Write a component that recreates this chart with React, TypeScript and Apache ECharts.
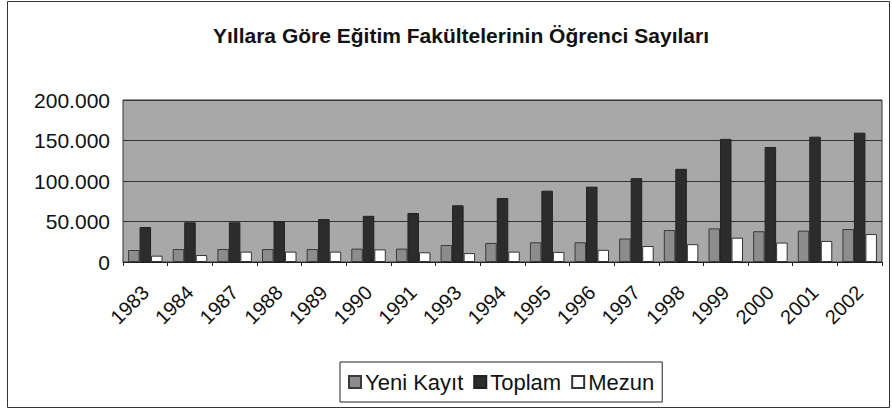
import React, { useEffect, useRef } from "react";
import * as echarts from "echarts";

const years = ["1983", "1984", "1987", "1988", "1989", "1990", "1991", "1993", "1994", "1995", "1996", "1997", "1998", "1999", "2000", "2001", "2002"];
const yeniKayit = [14800, 16000, 16000, 16000, 16000, 16500, 16500, 21000, 23500, 24300, 24300, 29000, 39500, 41500, 38000, 38700, 40700];
const toplam = [43200, 49000, 49000, 50600, 53000, 57000, 60500, 70000, 79000, 88000, 93000, 103500, 115000, 152000, 142000, 154700, 159700];
const mezun = [7800, 8600, 12800, 12800, 12800, 15600, 12000, 11000, 12800, 12500, 15000, 19700, 22000, 30000, 24000, 26000, 34500];
const seriesNames = ["Yeni Kayıt", "Toplam", "Mezun"];
const titleText = "Yıllara Göre Eğitim Fakültelerinin Öğrenci Sayıları";

const fmt = (v: number) => (v === 0 ? "0" : String(v).replace(/\B(?=(\d{3})+(?!\d))/g, "."));

export default function App() {
  const ref = useRef<HTMLDivElement>(null);
  useEffect(() => {
    document.body.style.margin = "0";
    const chart = echarts.init(ref.current!, null, { renderer: "svg" });
    const font = "Arial, 'Liberation Sans', sans-serif";
    chart.setOption({
      animation: false,
      backgroundColor: "#ffffff",
      title: {
        text: titleText,
        left: 456,
        textAlign: "center",
        top: 20,
        textStyle: { fontFamily: font, fontSize: 21, fontWeight: "bold", color: "#111" },
      },
      legend: {
        data: seriesNames,
        left: 340,
        top: 362,
        icon: "rect",
        itemWidth: 12,
        itemHeight: 12,
        itemGap: 10,
        padding: [9, 8, 9, 8],
        borderColor: "#222",
        borderWidth: 1,
        textStyle: { fontFamily: font, fontSize: 22, color: "#111", padding: [0, 0, 0, -1] },
      },
      grid: {
        left: 123,
        right: 10,
        top: 100,
        bottom: 148,
        show: true,
        backgroundColor: "#a8a8a8",
        borderColor: "#333",
        borderWidth: 1,
      },
      xAxis: {
        type: "category",
        data: years,
        axisLine: { lineStyle: { color: "#222", width: 1 } },
        axisTick: { show: true, length: 4, lineStyle: { color: "#222" } },
        axisLabel: { rotate: 45, fontFamily: font, fontSize: 20, color: "#111", margin: 27, interval: 0 },
      },
      yAxis: {
        type: "value",
        min: 0,
        max: 200000,
        interval: 50000,
        axisLine: { show: false },
        axisTick: { show: false },
        splitLine: { lineStyle: { color: "#333", width: 1 } },
        axisLabel: { fontFamily: font, fontSize: 21, color: "#111", margin: 13, formatter: fmt },
      },
      series: [
        {
          name: seriesNames[0],
          type: "bar",
          data: yeniKayit,
          barWidth: 11.5,
          barGap: "0%",
          itemStyle: { color: "#8c8c8c", borderColor: "#3a3a3a", borderWidth: 1 },
        },
        {
          name: seriesNames[1],
          type: "bar",
          data: toplam,
          barWidth: 11.5,
          barGap: "0%",
          itemStyle: { color: "#2c2c2c", borderColor: "#222", borderWidth: 1 },
        },
        {
          name: seriesNames[2],
          type: "bar",
          data: mezun,
          barWidth: 11.5,
          barGap: "0%",
          itemStyle: { color: "#ffffff", borderColor: "#333", borderWidth: 1 },
        },
      ],
      graphic: [
        {
          type: "rect",
          shape: { x: 7.5, y: 1.5, width: 882, height: 406 },
          style: { fill: "none", stroke: "#333", lineWidth: 1 },
          silent: true,
        },
      ],
    });
    return () => chart.dispose();
  }, []);
  return <div ref={ref} style={{ width: 892, height: 410 }} />;
}
